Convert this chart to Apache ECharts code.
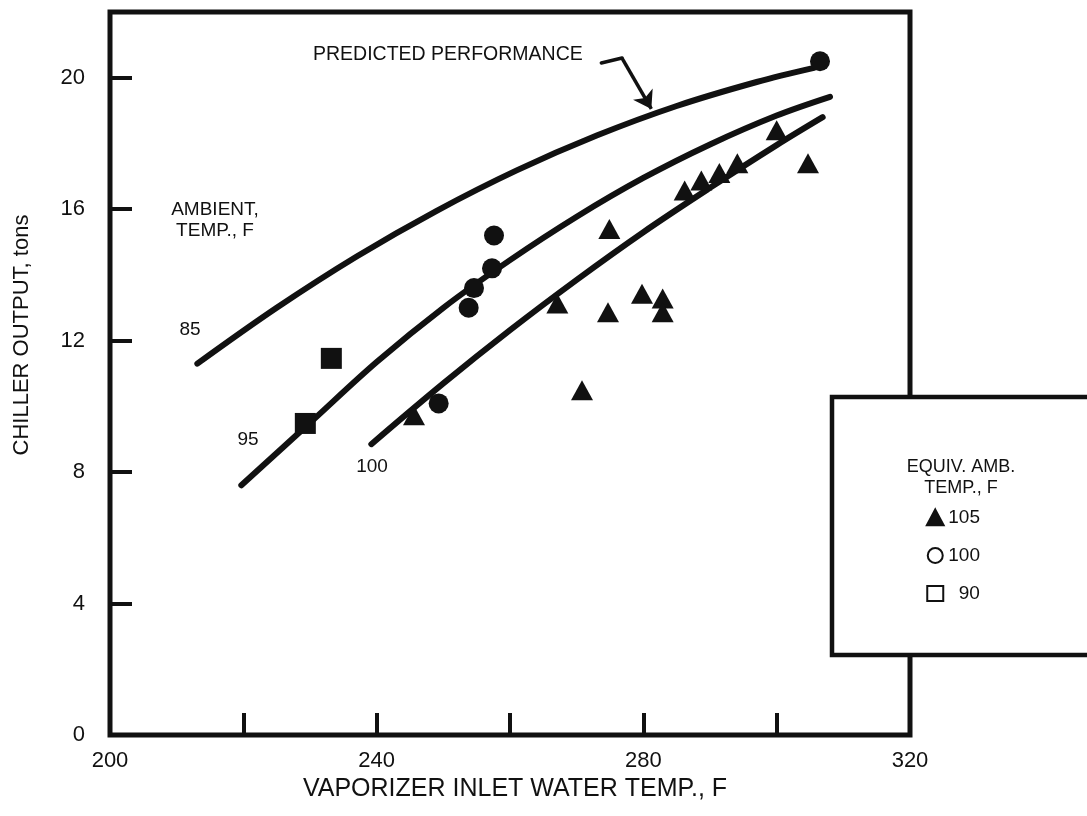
<!DOCTYPE html>
<html>
<head>
<meta charset="utf-8">
<script src="https://cdn.jsdelivr.net/npm/echarts@6/dist/echarts.min.js"></script>
<style>
html,body{margin:0;padding:0;background:#fff;}
#chart{width:1087px;height:816px;}
</style>
</head>
<body>
<div id="chart"></div>
<script>
// ---- Data ----
var xTicks = [200, 220, 240, 260, 280, 300, 320];
var yTicks = [0, 4, 8, 12, 16, 20];

// Predicted performance curves (ambient temp, F)
var curve85 = [[213.1,11.3],[225.0,13.0],[237.0,14.56],[249.0,15.95],[261.0,17.18],[273.0,18.24],[285.0,19.14],[297.0,19.87],[305.6,20.3]];
var curve95 = [[219.7,7.6],[230.0,9.5],[240.0,11.35],[250.0,13.0],[260.0,14.45],[270.0,15.77],[280.0,16.95],[290.0,17.97],[300.0,18.85],[308.0,19.42]];
var curve100 = [[239.2,8.85],[250.0,10.7],[260.0,12.32],[270.0,13.85],[280.0,15.3],[290.0,16.65],[300.0,17.95],[306.9,18.8]];

// Measured points (equiv. ambient temp, F)
var tri105 = [[245.6,9.73],[267.1,13.13],[270.8,10.49],[274.7,12.86],[274.9,15.4],[279.8,13.43],[282.9,13.28],[282.9,12.86],[286.2,16.57],[288.7,16.87],[291.4,17.1],[294.1,17.4],[300.0,18.4],[304.7,17.4]];
var circ100 = [[249.3,10.09],[253.8,13.0],[254.6,13.6],[257.3,14.2],[257.6,15.2],[306.5,20.5]];
var sq90 = [[229.3,9.48],[233.2,11.46]];

// Annotation arrow (data coords)
var arrowA = [[273.7,20.45],[276.8,20.6]];
var arrowB = [[276.8,20.6],[281.2,19.05]];

var FONT = '"Liberation Sans", Arial, Helvetica, sans-serif';
var INK = '#111';

var chart = echarts.init(document.getElementById('chart'), null, {renderer:'canvas'});

function curve(name, data){
  return {
    name: name, type: 'line', data: data, smooth: 0.35, showSymbol: false, symbol: 'none',
    lineStyle: {color: INK, width: 6, cap: 'round', join: 'round'}, z: 3, silent: true
  };
}

var option = {
  backgroundColor: '#fff',
  animation: false,
  grid: {left: 110, right: 177, top: 12, bottom: 81, show: true, borderColor: INK, borderWidth: 5, backgroundColor: 'transparent'},
  xAxis: {
    type: 'value', min: xTicks[0], max: xTicks[xTicks.length-1], interval: 20,
    axisLine: {show: false},
    axisTick: {show: true, inside: true, length: 22, lineStyle: {color: INK, width: 4}},
    splitLine: {show: false},
    axisLabel: {color: INK, fontFamily: FONT, fontSize: 22, margin: 15,
      formatter: function(v){ return (v - 200) % 40 === 0 ? String(v) : ''; }},
    name: 'VAPORIZER INLET WATER TEMP., F', nameLocation: 'middle', nameGap: 42,
    nameTextStyle: {color: INK, fontFamily: FONT, fontSize: 25, padding: [0, 0, 0, 10]}
  },
  yAxis: {
    type: 'value', min: yTicks[0], max: 22, interval: 4,
    axisLine: {show: false},
    axisTick: {show: true, inside: true, length: 22, lineStyle: {color: INK, width: 4}},
    splitLine: {show: false},
    axisLabel: {color: INK, fontFamily: FONT, fontSize: 22, margin: 25, showMaxLabel: false,
      formatter: function(v){ return yTicks.indexOf(v) >= 0 ? String(v) : ''; }}
  },
  legend: {
    orient: 'vertical', left: 921, top: 503, itemGap: 19, itemWidth: 16, itemHeight: 15,
    selectedMode: false, z: 20,
    textStyle: {color: INK, fontFamily: FONT, fontSize: 19},
    itemStyle: {borderWidth: 2.5, borderColor: INK},
    data: [
      {name: '105', icon: 'triangle'},
      {name: '100', icon: 'emptyCircle'},
      {name: '90', icon: 'emptyRect'}
    ],
    formatter: function(n){ return n === '90' ? '  ' + n : n; }
  },
  series: [
    curve('85 F', curve85),
    curve('95 F', curve95),
    curve('100 F', curve100),
    {name: 'arrowA', type: 'line', data: arrowA, showSymbol: false, symbol: 'none', smooth: true,
      lineStyle: {color: INK, width: 3.5, cap: 'round'}, z: 3, silent: true},
    {name: 'arrowB', type: 'lines', coordinateSystem: 'cartesian2d', z: 3, silent: true,
      symbol: ['none', 'arrow'], symbolSize: [0, 17],
      lineStyle: {color: INK, width: 3.5, opacity: 1},
      data: [{coords: arrowB}]},
    {name: '105', type: 'scatter', data: tri105, symbol: 'triangle', symbolSize: [22, 20],
      itemStyle: {color: INK, opacity: 1}, z: 4},
    {name: '100', type: 'scatter', data: circ100, symbol: 'circle', symbolSize: 20,
      itemStyle: {color: INK, opacity: 1}, z: 4},
    {name: '90', type: 'scatter', data: sq90, symbol: 'rect', symbolSize: 21,
      itemStyle: {color: INK, opacity: 1, borderRadius: 2}, z: 4}
  ],
  graphic: [
    {type: 'rect', z: 10, shape: {x: 832, y: 397, width: 300, height: 258},
      style: {fill: '#fff', stroke: INK, lineWidth: 4.5}},
    {type: 'text', z: 21, style: {text: 'EQUIV. AMB.\nTEMP., F', x: 961, y: 478, align: 'center', verticalAlign: 'middle',
      font: '18px ' + FONT, fill: INK, lineHeight: 21}},
    {type: 'text', z: 5, style: {text: 'PREDICTED PERFORMANCE', x: 313, y: 55, align: 'left', verticalAlign: 'middle',
      font: '19.5px ' + FONT, fill: INK}},
    {type: 'text', z: 5, style: {text: 'AMBIENT,\nTEMP., F', x: 215, y: 220, align: 'center', verticalAlign: 'middle',
      font: '19px ' + FONT, fill: INK, lineHeight: 21}},
    {type: 'text', z: 5, style: {text: '85', x: 190, y: 330, align: 'center', verticalAlign: 'middle', font: '19px ' + FONT, fill: INK}},
    {type: 'text', z: 5, style: {text: '95', x: 248, y: 440, align: 'center', verticalAlign: 'middle', font: '19px ' + FONT, fill: INK}},
    {type: 'text', z: 5, style: {text: '100', x: 372, y: 467, align: 'center', verticalAlign: 'middle', font: '19px ' + FONT, fill: INK}},
    {type: 'text', z: 5, rotation: Math.PI / 2, x: 22, y: 335,
      style: {text: 'CHILLER OUTPUT, tons', x: 0, y: 0, align: 'center', verticalAlign: 'middle', font: '22px ' + FONT, fill: INK}}
  ]
};
chart.setOption(option);
</script>
</body>
</html>
